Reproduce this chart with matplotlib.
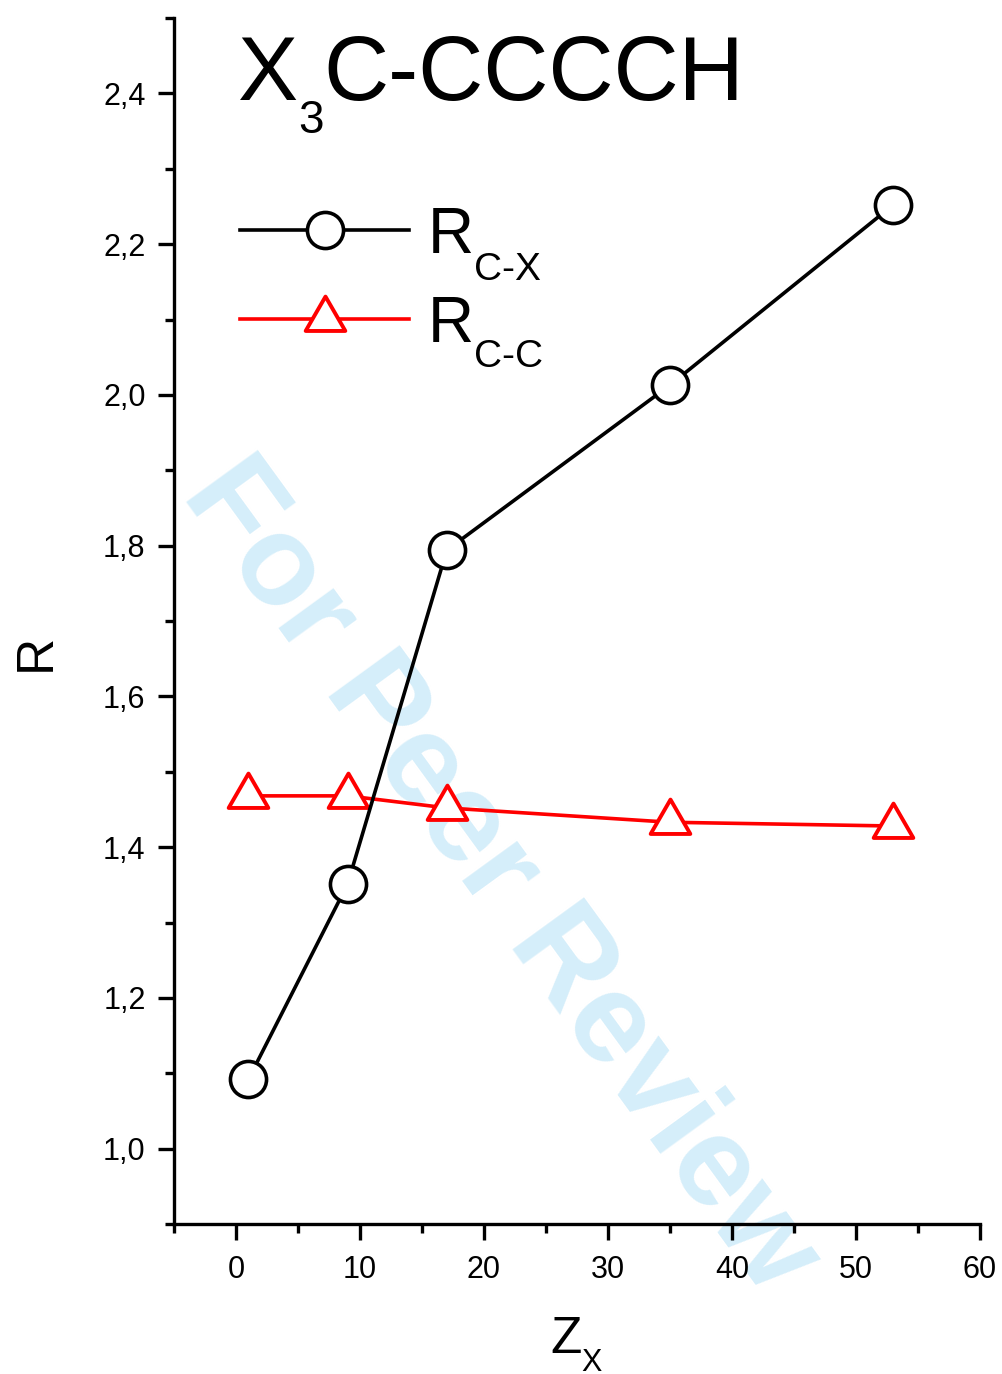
import matplotlib
matplotlib.use("Agg")
import matplotlib.pyplot as plt
from matplotlib.lines import Line2D
from matplotlib.path import Path
from matplotlib.ticker import MultipleLocator, FuncFormatter

plt.rcParams["font.family"] = ["Liberation Sans", "DejaVu Sans"]

# data
z_x = [1, 9, 17, 35, 53]
r_cx = [1.092, 1.351, 1.794, 2.013, 2.252]
r_cc = [1.468, 1.468, 1.452, 1.433, 1.428]

W, H = 1002, 1374
fig = plt.figure(figsize=(W / 100, H / 100), dpi=100)


def fx(px):
    return px / W


def fy(py):
    return 1 - py / H


ax = fig.add_axes([fx(174), fy(1224), fx(980) - fx(174), fy(18) - fy(1224)])
ax.set_facecolor("none")

# triangle centred on its centroid (as Origin draws it)
tri = Path([(0, 1), (-0.866, -0.5), (0.866, -0.5), (0, 1)],
           [Path.MOVETO, Path.LINETO, Path.LINETO, Path.CLOSEPOLY])

LW = 2.6
ax.plot(z_x, r_cx, color="black", lw=LW, marker="o", ms=26,
        mfc="white", mec="black", mew=LW, zorder=3)
ax.plot(z_x, r_cc, color="red", lw=LW, marker=tri, ms=33,
        mfc="white", mec="red", mew=2.8, zorder=2)

ax.set_xlim(-5, 60)
ax.set_ylim(0.9, 2.5)
ax.xaxis.set_major_locator(MultipleLocator(10))
ax.xaxis.set_minor_locator(MultipleLocator(5))
ax.yaxis.set_minor_locator(MultipleLocator(0.1))
ax.set_yticks([1.0, 1.2, 1.4, 1.6, 1.8, 2.0, 2.2, 2.4])
ax.yaxis.set_major_formatter(FuncFormatter(lambda v, p: f"{v:.1f}".replace(".", ",")))

for s in ["top", "right"]:
    ax.spines[s].set_visible(False)
for s in ["left", "bottom"]:
    ax.spines[s].set_linewidth(2.4)

ax.tick_params(which="major", direction="out", length=11.5, width=2.4,
               labelsize=22, pad=9)
ax.tick_params(which="minor", direction="out", length=6.5, width=2.4)
ax.tick_params(axis="x", pad=11)

# watermark
ax.text(fx(181), fy(494), "For Peer Review", transform=fig.transFigure,
        fontsize=92, fontweight="bold", color="#d5eefa", rotation=-54,
        rotation_mode="anchor", ha="left", va="baseline", zorder=0.5,
        clip_on=False)

renderer = fig.canvas.get_renderer()


def sub_text(x, y, base, sub, size, subsize, drop, tail=None):
    t = fig.text(fx(x), fy(y), base, fontsize=size, ha="left", va="baseline")
    x1 = t.get_window_extent(renderer).x1
    s = fig.text(x1 / W, fy(y + drop), sub, fontsize=subsize, ha="left", va="baseline")
    if tail:
        x2 = s.get_window_extent(renderer).x1
        fig.text(x2 / W, fy(y), tail, fontsize=size, ha="left", va="baseline")


# title
sub_text(238, 100, "X", "3", 65, 33, 33, tail="C-CCCCH")

# axis labels
fig.text(fx(50), fy(652), "R", fontsize=37, rotation=90, rotation_mode="anchor",
         ha="center", va="baseline")
sub_text(550, 1353, "Z", "X", 37, 22, 18)

# legend
fig.add_artist(Line2D([fx(240), fx(409)], [fy(230), fy(230)], color="black", lw=LW,
                      transform=fig.transFigure))
fig.add_artist(Line2D([fx(325)], [fy(230)], color="black", marker="o", ms=26,
                      mfc="white", mec="black", mew=LW, transform=fig.transFigure))
fig.add_artist(Line2D([fx(240), fx(409)], [fy(319), fy(319)], color="red", lw=LW,
                      transform=fig.transFigure))
fig.add_artist(Line2D([fx(325)], [fy(319)], color="red", marker=tri, ms=33,
                      mfc="white", mec="red", mew=2.8, transform=fig.transFigure))
sub_text(428, 253, "R", "C-X", 46, 28, 27)
sub_text(428, 342, "R", "C-C", 46, 28, 25)

fig.savefig("out.png", dpi=100)
